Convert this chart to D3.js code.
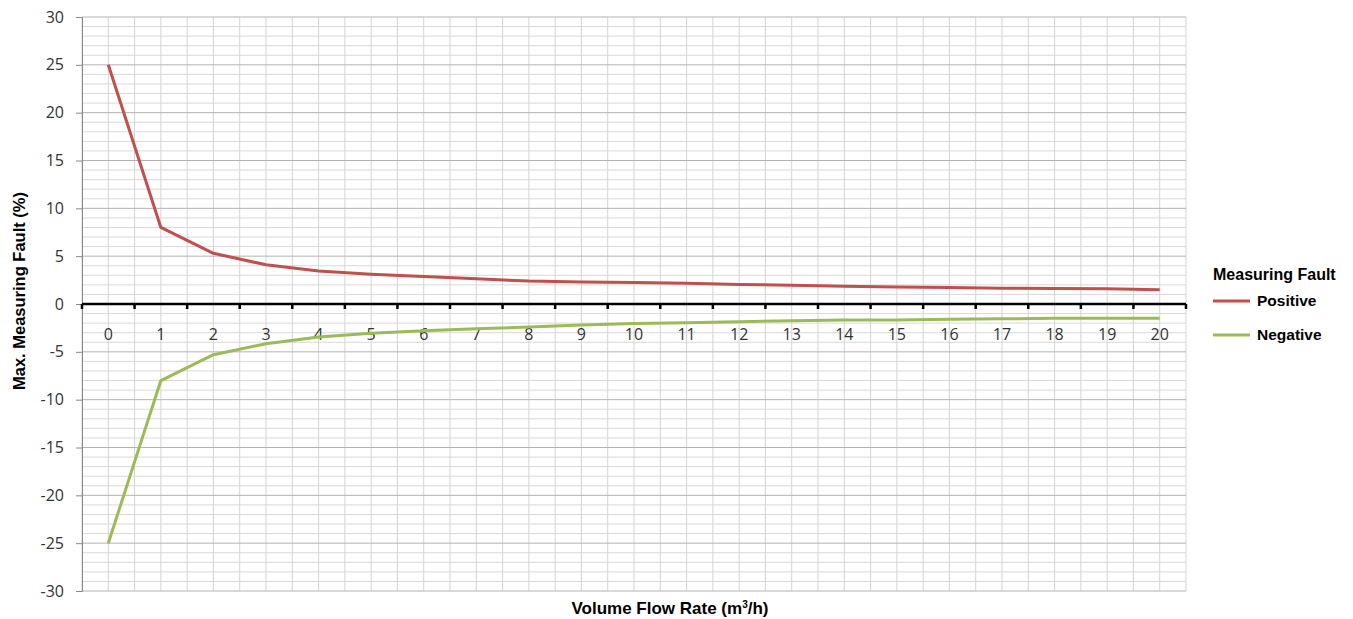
<!DOCTYPE html>
<html>
<head>
<meta charset="utf-8">
<script src="https://cdn.jsdelivr.net/npm/d3@7"></script>
<style>
  body { margin: 0; background: #fff; }
  svg { display: block; }
</style>
</head>
<body>
<svg id="chart" width="1353" height="619"></svg>
<script>
// flow rates (m3/h) and max. measuring fault (%)
const flowRates = d3.range(0, 21).map(String);
const positive = [25, 8, 5.3, 4.1, 3.45, 3.1, 2.87, 2.63, 2.4, 2.3, 2.25, 2.18, 2.05, 1.95, 1.85, 1.78, 1.72, 1.65, 1.63, 1.6, 1.5];
const negative = [-25, -8, -5.3, -4.15, -3.45, -3.05, -2.8, -2.6, -2.4, -2.2, -2.05, -1.95, -1.85, -1.75, -1.67, -1.67, -1.6, -1.55, -1.5, -1.5, -1.5];
const yTicks = [30, 25, 20, 15, 10, 5, 0, -5, -10, -15, -20, -25, -30];

const series = [
  { name: 'Positive', values: positive, color: '#c0504d' },
  { name: 'Negative', values: negative, color: '#9bbb59' }
];

const margin = { top: 17, left: 82, right: 167, bottom: 28 };
const W = 1353, H = 619;

const svg = d3.select('#chart');

const x = d3.scaleBand()
  .domain(flowRates)
  .range([margin.left, W - margin.right]);

const y = d3.scaleLinear()
  .domain([-30, 30])
  .range([H - margin.bottom, margin.top]);

const bw = x.bandwidth();
const cx = d => x(d) + bw / 2;

// horizontal grid: every unit, darker every 5
const grid = svg.append('g');
grid.selectAll('line.minor-h')
  .data(d3.range(-30, 31).filter(v => v % 5 !== 0))
  .enter().append('line')
  .attr('x1', margin.left).attr('x2', W - margin.right)
  .attr('y1', d => y(d)).attr('y2', d => y(d))
  .attr('stroke', '#d9d9d9').attr('stroke-width', 1);

// vertical grid: band edges and centres
const vLines = [];
flowRates.forEach(d => { vLines.push(x(d)); vLines.push(cx(d)); });
vLines.push(W - margin.right);
grid.selectAll('line.v')
  .data(vLines)
  .enter().append('line')
  .attr('x1', d => d).attr('x2', d => d)
  .attr('y1', margin.top).attr('y2', H - margin.bottom)
  .attr('stroke', '#d4d4d4').attr('stroke-width', 1);

grid.selectAll('line.major-h')
  .data(yTicks.filter(v => v !== 0))
  .enter().append('line')
  .attr('x1', margin.left).attr('x2', W - margin.right)
  .attr('y1', d => y(d)).attr('y2', d => y(d))
  .attr('stroke', '#b3b3b3').attr('stroke-width', 1);

// y axis
const yAxis = svg.append('g')
  .attr('transform', `translate(${margin.left},0)`)
  .call(d3.axisLeft(y).tickValues(yTicks).tickFormat(d => String(d)).tickSize(6).tickPadding(12));
yAxis.select('.domain').attr('stroke', '#888');
yAxis.selectAll('.tick line').attr('stroke', '#888');
yAxis.selectAll('.tick text')
  .attr('fill', '#333')
  .style('font-family', '"Open Sans", sans-serif')
  .style('font-size', '16px');

// zero axis with ticks at band edges
const xAxis = svg.append('g')
  .attr('transform', `translate(0,${y(0)})`);
xAxis.append('line')
  .attr('x1', margin.left).attr('x2', W - margin.right)
  .attr('stroke', '#000').attr('stroke-width', 2.5);
const edgeTicks = flowRates.map(d => x(d)).concat([W - margin.right]);
xAxis.selectAll('line.tk')
  .data(edgeTicks)
  .enter().append('line')
  .attr('x1', d => d).attr('x2', d => d)
  .attr('y1', 0).attr('y2', 5)
  .attr('stroke', '#000').attr('stroke-width', 2.5);
xAxis.selectAll('text')
  .data(flowRates)
  .enter().append('text')
  .attr('x', d => cx(d))
  .attr('y', 36)
  .attr('text-anchor', 'middle')
  .attr('fill', '#333')
  .style('font-family', '"Open Sans", sans-serif')
  .style('font-size', '16px')
  .text(d => d);

// lines
const line = d3.line()
  .x((d, i) => cx(flowRates[i]))
  .y(d => y(d));

series.forEach(s => {
  svg.append('path')
    .datum(s.values)
    .attr('fill', 'none')
    .attr('stroke', s.color)
    .attr('stroke-width', 3)
    .attr('stroke-linejoin', 'round')
    .attr('d', line);
});

// axis titles
svg.append('text')
  .attr('x', 670)
  .attr('y', 614)
  .attr('text-anchor', 'middle')
  .style('font-family', '"Liberation Sans", Arial, sans-serif')
  .style('font-size', '17px')
  .style('font-weight', 'bold')
  .html('Volume Flow Rate (m<tspan dy="-6" font-size="10px">3</tspan><tspan dy="6">/h)</tspan>');

svg.append('text')
  .attr('transform', `translate(25,${y(0) - 13}) rotate(-90)`)
  .attr('text-anchor', 'middle')
  .style('font-family', '"Liberation Sans", Arial, sans-serif')
  .style('font-size', '16.5px')
  .style('font-weight', 'bold')
  .text('Max. Measuring Fault (%)');

// legend
const legend = svg.append('g');
legend.append('text')
  .attr('x', 1213).attr('y', 280)
  .style('font-family', '"Liberation Sans", Arial, sans-serif')
  .style('font-size', '16px')
  .style('font-weight', 'bold')
  .text('Measuring Fault');
series.forEach((s, i) => {
  const ly = 301 + i * 34;
  legend.append('line')
    .attr('x1', 1213).attr('x2', 1250)
    .attr('y1', ly).attr('y2', ly)
    .attr('stroke', s.color).attr('stroke-width', 3);
  legend.append('text')
    .attr('x', 1257).attr('y', ly + 5)
    .style('font-family', '"Liberation Sans", Arial, sans-serif')
    .style('font-size', '15.5px')
    .style('font-weight', 'bold')
    .text(s.name);
});
</script>
</body>
</html>
